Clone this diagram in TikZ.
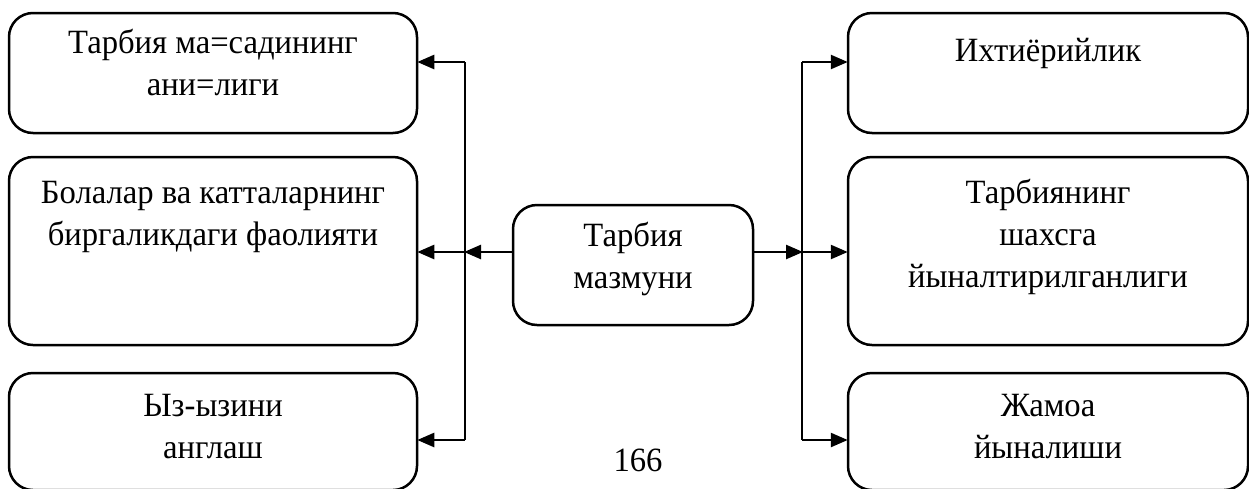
\documentclass[tikz,border=0pt]{standalone}
\usepackage{fontspec}
\setmainfont[FakeStretch=0.96]{Liberation Serif}
\usetikzlibrary{arrows.meta}
\begin{document}
\begin{tikzpicture}[x=1pt,y=-1pt,
  box/.style={draw, line width=2.5pt, rounded corners=24pt, minimum width=#1, inner sep=0pt},
  txt/.style={font=\fontsize{34}{42}\selectfont, align=center, anchor=base, inner sep=0pt},
  conn/.style={line width=2.5pt},
  arr/.style={line width=2.5pt, -{Triangle[length=17pt,width=14pt]}, shorten >=-1pt}]
\useasboundingbox (0,0) rectangle (1249,488);
% left boxes
\node[box=408pt, minimum height=120pt] (L1) at (213,73) {};
\node[box=408pt, minimum height=188pt] (L2) at (213,251) {};
\node[box=408pt, minimum height=117pt] (L3) at (213,431.5) {};
% centre
\node[box=240pt, minimum height=120pt] (C) at (633,265) {};
% right boxes
\node[box=400pt, minimum height=120pt] (R1) at (1048,73) {};
\node[box=400pt, minimum height=188pt] (R2) at (1048,251) {};
\node[box=400pt, minimum height=117pt] (R3) at (1048,431.5) {};
% texts (anchor base = baseline of last line)
\node[txt] (tL1) at ([yshift=-84pt]L1.north) {Тарбия ма=садининг\\ани=лиги};
\node[txt] (tL2) at ([yshift=-90pt]L2.north) {Болалар ва катталарнинг\\биргаликдаги фаолияти};
\node[txt] (tL3) at ([yshift=-87pt]L3.north) {Ыз-ызини\\англаш};
\node[txt] (tC) at ([yshift=-85pt]C.north) {Тарбия\\мазмуни};
\node[txt] (tR1) at ([yshift=-50pt]R1.north) {Ихтиёрийлик};
\node[txt] (tR2) at ([yshift=-132pt]R2.north) {Тарбиянинг\\шахсга\\йыналтирилганлиги};
\node[txt] (tR3) at ([yshift=-87pt]R3.north) {Жамоа\\йыналиши};
\node[txt] (pg) at (638,471) {166};
% connector coordinates
\coordinate (lt) at (465,62);
\coordinate (lm) at (465,252);
\coordinate (lb) at (465,440);
\coordinate (rt) at (802,62);
\coordinate (rm) at (802,252);
\coordinate (rb) at (802,440);
% left connectors
\draw[conn] (lt) -- (lb);
\draw[arr] (C.west |- lm) -- (lm);
\draw[arr] (lt) -- (L1.east |- lt);
\draw[arr] (lm) -- (L2.east |- lm);
\draw[arr] (lb) -- (L3.east |- lb);
% right connectors
\draw[conn] (rt) -- (rb);
\draw[arr] (C.east |- rm) -- (rm);
\draw[arr] (rt) -- (R1.west |- rt);
\draw[arr] (rm) -- (R2.west |- rm);
\draw[arr] (rb) -- (R3.west |- rb);
\end{tikzpicture}
\end{document}
